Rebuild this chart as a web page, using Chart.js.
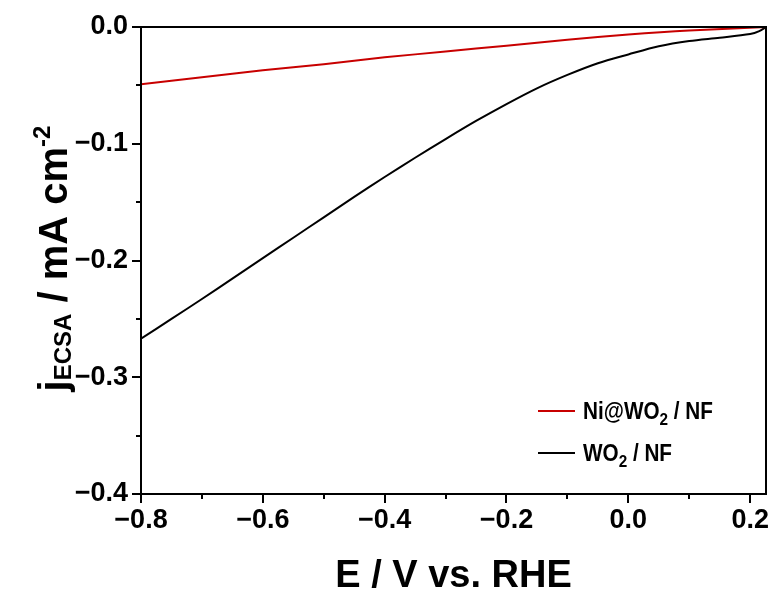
<!DOCTYPE html>
<html>
<head>
<meta charset="utf-8">
<script src="https://cdn.jsdelivr.net/npm/chart.js@4.4.0/dist/chart.umd.min.js"></script>
<style>
  html, body { margin: 0; padding: 0; background: #fff; }
  #wrap { width: 773px; height: 594px; }
</style>
</head>
<body>
<div id="wrap"><canvas id="chart"></canvas></div>
<script>
// values
const niE = [-0.8, -0.7, -0.6, -0.5, -0.4, -0.3, -0.2, -0.1, 0.0, 0.1, 0.226];
const niJ = [-0.049, -0.043, -0.037, -0.032, -0.026, -0.021, -0.016, -0.011, -0.0065, -0.003, 0.0];

const woE = [-0.8, -0.75, -0.7, -0.65, -0.6, -0.55, -0.5, -0.45, -0.4, -0.35, -0.3, -0.25, -0.2,
             -0.15, -0.1, -0.05, 0.0, 0.05, 0.1, 0.15, 0.2, 0.215, 0.226];
const woJ = [-0.267, -0.250, -0.233, -0.2155, -0.198, -0.1805, -0.163, -0.1455, -0.1285, -0.112, -0.096,
             -0.0805, -0.066, -0.0525, -0.041, -0.031, -0.0235, -0.0165, -0.012, -0.0092, -0.006, -0.0035, 0.0];

const xTickVals = [-0.8, -0.7, -0.6, -0.5, -0.4, -0.3, -0.2, -0.1, 0.0, 0.1, 0.2];
const yTickVals = [0.0, -0.05, -0.1, -0.15, -0.2, -0.25, -0.3, -0.35, -0.4];

const legendParts = [
  [['Ni@WO', ''], ['2', 'sub'], [' / NF', '']],
  [['WO', ''], ['2', 'sub'], [' / NF', '']]
];
const yTitleParts = [['j', ''], ['ECSA', 'sub'], [' / mA cm', ''], ['-2', 'sup']];
const xTitle = 'E / V vs. RHE';

const FONT = '"Liberation Sans", Arial, sans-serif';

function fmt(v) {
  return (v < -1e-9 ? '\u2212' : '') + Math.abs(v).toFixed(1);
}

function toPoints(xs, ys) {
  return xs.map((x, i) => ({ x: x, y: ys[i] }));
}

// draws text made of normal / sub / sup pieces, starting at x (baseline y)
function drawParts(ctx, parts, x, y, size, subSize, subDy, supDy, measureOnly) {
  let w = 0;
  parts.forEach(p => {
    const s = p[1] ? subSize : size;
    ctx.font = 'bold ' + s + 'px ' + FONT;
    const dy = p[1] === 'sub' ? subDy : (p[1] === 'sup' ? supDy : 0);
    if (!measureOnly) ctx.fillText(p[0], x + w, y + dy);
    w += ctx.measureText(p[0]).width;
  });
  return w;
}

const decorations = {
  id: 'decorations',
  afterDraw(chart) {
    const { ctx, chartArea: a, scales: { x, y } } = chart;
    ctx.save();
    ctx.strokeStyle = '#000';
    ctx.lineWidth = 2;
    ctx.strokeRect(a.left, a.top, a.right - a.left, a.bottom - a.top);

    // outward ticks, longer at labelled values
    ctx.beginPath();
    xTickVals.forEach(v => {
      const px = Math.round(x.getPixelForValue(v));
      const major = Math.abs(Math.round(v * 10)) % 2 === 0;
      ctx.moveTo(px, a.bottom);
      ctx.lineTo(px, a.bottom + (major ? 9 : 5));
    });
    yTickVals.forEach(v => {
      const py = Math.round(y.getPixelForValue(v));
      const major = Math.abs(Math.round(v * 100)) % 10 === 0;
      ctx.moveTo(a.left, py);
      ctx.lineTo(a.left - (major ? 9 : 5), py);
    });
    ctx.stroke();

    ctx.fillStyle = '#000';
    ctx.textBaseline = 'alphabetic';

    // x title
    ctx.font = 'bold 38px ' + FONT;
    ctx.textAlign = 'center';
    ctx.fillText(xTitle, (a.left + a.right) / 2, 587);

    // y title, rotated
    ctx.textAlign = 'left';
    ctx.save();
    ctx.translate(67, (a.top + a.bottom) / 2 - 2);
    ctx.rotate(-Math.PI / 2);
    const tw = drawParts(ctx, yTitleParts, 0, 0, 40, 24, 4, -17, true);
    drawParts(ctx, yTitleParts, -tw / 2, 0, 40, 24, 4, -17, false);
    ctx.restore();

    // legend (text slightly condensed as in the original)
    chart.data.datasets.forEach((ds, i) => {
      const ly = 411 + i * 42;
      ctx.strokeStyle = ds.borderColor;
      ctx.lineWidth = 2;
      ctx.beginPath();
      ctx.moveTo(538, ly);
      ctx.lineTo(575, ly);
      ctx.stroke();
      ctx.fillStyle = '#000';
      ctx.save();
      ctx.translate(583, ly + 8);
      ctx.scale(0.9, 1);
      drawParts(ctx, legendParts[i], 0, 0, 23, 17, 6, -9, false);
      ctx.restore();
    });
    ctx.restore();
  }
};

new Chart(document.getElementById('chart'), {
  type: 'line',
  data: {
    datasets: [
      {
        label: 'Ni@WO2 / NF',
        data: toPoints(niE, niJ),
        borderColor: '#c80000',
        borderWidth: 2,
        pointRadius: 0,
        tension: 0.3
      },
      {
        label: 'WO2 / NF',
        data: toPoints(woE, woJ),
        borderColor: '#000000',
        borderWidth: 2,
        pointRadius: 0,
        tension: 0.3
      }
    ]
  },
  options: {
    responsive: true,
    maintainAspectRatio: false,
    animation: false,
    layout: { padding: { top: 27, right: 7, left: 0, bottom: 0 } },
    plugins: { legend: { display: false }, tooltip: { enabled: false } },
    scales: {
      x: {
        type: 'linear',
        min: -0.8,
        max: 0.226,
        afterBuildTicks: s => { s.ticks = xTickVals.map(v => ({ value: v })); },
        afterFit: s => { s.height = 100; s.paddingRight = 0; s.paddingLeft = 0; },
        grid: { display: false, drawTicks: false },
        border: { display: false },
        ticks: {
          padding: 10,
          color: '#000',
          font: { family: FONT, weight: 'bold', size: 27 },
          maxRotation: 0,
          autoSkip: false,
          callback: v => (Math.abs(Math.round(v * 10)) % 2 === 0 ? fmt(v) : '')
        }
      },
      y: {
        type: 'linear',
        min: -0.4,
        max: 0.0,
        afterBuildTicks: s => { s.ticks = yTickVals.map(v => ({ value: v })); },
        afterFit: s => { s.width = 141; s.paddingTop = 0; s.paddingBottom = 0; },
        grid: { display: false, drawTicks: false },
        border: { display: false },
        ticks: {
          padding: 13,
          color: '#000',
          font: { family: FONT, weight: 'bold', size: 27 },
          autoSkip: false,
          callback: v => (Math.abs(Math.round(v * 100)) % 10 === 0 ? fmt(v) : '')
        }
      }
    }
  },
  plugins: [decorations]
});
</script>
</body>
</html>
